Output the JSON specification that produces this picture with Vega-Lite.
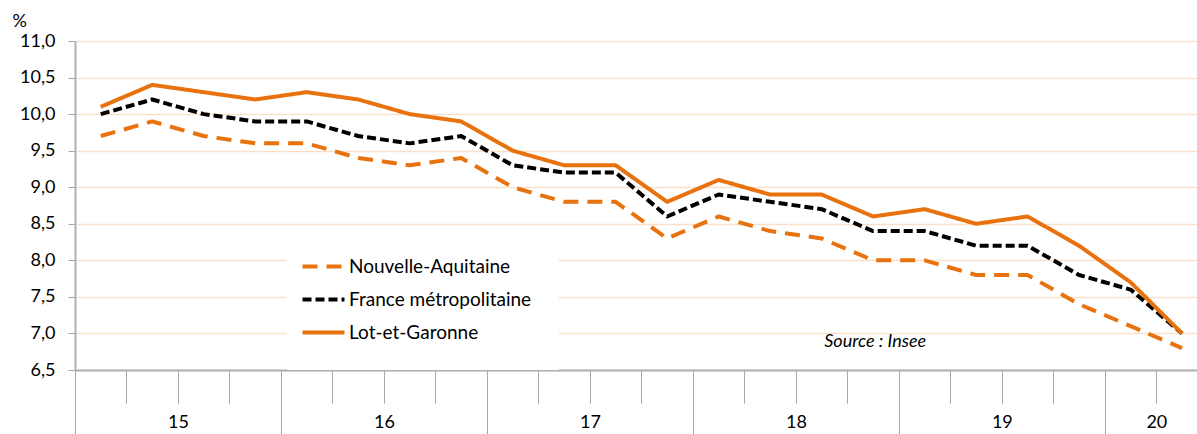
{
  "$schema": "https://vega.github.io/schema/vega-lite/v6.json",
  "width": 1122,
  "height": 329,
  "autosize": {"type": "none"},
  "padding": {"left": 75, "top": 41, "right": 0, "bottom": 64},
  "background": "white",
  "config": {"view": {"stroke": null}, "font": "Lato"},
  "data": {
    "values": [
      {"q": 0, "serie": "Nouvelle-Aquitaine", "taux": 9.7},
      {"q": 1, "serie": "Nouvelle-Aquitaine", "taux": 9.9},
      {"q": 2, "serie": "Nouvelle-Aquitaine", "taux": 9.7},
      {"q": 3, "serie": "Nouvelle-Aquitaine", "taux": 9.6},
      {"q": 4, "serie": "Nouvelle-Aquitaine", "taux": 9.6},
      {"q": 5, "serie": "Nouvelle-Aquitaine", "taux": 9.4},
      {"q": 6, "serie": "Nouvelle-Aquitaine", "taux": 9.3},
      {"q": 7, "serie": "Nouvelle-Aquitaine", "taux": 9.4},
      {"q": 8, "serie": "Nouvelle-Aquitaine", "taux": 9.0},
      {"q": 9, "serie": "Nouvelle-Aquitaine", "taux": 8.8},
      {"q": 10, "serie": "Nouvelle-Aquitaine", "taux": 8.8},
      {"q": 11, "serie": "Nouvelle-Aquitaine", "taux": 8.3},
      {"q": 12, "serie": "Nouvelle-Aquitaine", "taux": 8.6},
      {"q": 13, "serie": "Nouvelle-Aquitaine", "taux": 8.4},
      {"q": 14, "serie": "Nouvelle-Aquitaine", "taux": 8.3},
      {"q": 15, "serie": "Nouvelle-Aquitaine", "taux": 8.0},
      {"q": 16, "serie": "Nouvelle-Aquitaine", "taux": 8.0},
      {"q": 17, "serie": "Nouvelle-Aquitaine", "taux": 7.8},
      {"q": 18, "serie": "Nouvelle-Aquitaine", "taux": 7.8},
      {"q": 19, "serie": "Nouvelle-Aquitaine", "taux": 7.4},
      {"q": 20, "serie": "Nouvelle-Aquitaine", "taux": 7.1},
      {"q": 21, "serie": "Nouvelle-Aquitaine", "taux": 6.8},
      {"q": 0, "serie": "France métropolitaine", "taux": 10.0},
      {"q": 1, "serie": "France métropolitaine", "taux": 10.2},
      {"q": 2, "serie": "France métropolitaine", "taux": 10.0},
      {"q": 3, "serie": "France métropolitaine", "taux": 9.9},
      {"q": 4, "serie": "France métropolitaine", "taux": 9.9},
      {"q": 5, "serie": "France métropolitaine", "taux": 9.7},
      {"q": 6, "serie": "France métropolitaine", "taux": 9.6},
      {"q": 7, "serie": "France métropolitaine", "taux": 9.7},
      {"q": 8, "serie": "France métropolitaine", "taux": 9.3},
      {"q": 9, "serie": "France métropolitaine", "taux": 9.2},
      {"q": 10, "serie": "France métropolitaine", "taux": 9.2},
      {"q": 11, "serie": "France métropolitaine", "taux": 8.6},
      {"q": 12, "serie": "France métropolitaine", "taux": 8.9},
      {"q": 13, "serie": "France métropolitaine", "taux": 8.8},
      {"q": 14, "serie": "France métropolitaine", "taux": 8.7},
      {"q": 15, "serie": "France métropolitaine", "taux": 8.4},
      {"q": 16, "serie": "France métropolitaine", "taux": 8.4},
      {"q": 17, "serie": "France métropolitaine", "taux": 8.2},
      {"q": 18, "serie": "France métropolitaine", "taux": 8.2},
      {"q": 19, "serie": "France métropolitaine", "taux": 7.8},
      {"q": 20, "serie": "France métropolitaine", "taux": 7.6},
      {"q": 21, "serie": "France métropolitaine", "taux": 7.0},
      {"q": 0, "serie": "Lot-et-Garonne", "taux": 10.1},
      {"q": 1, "serie": "Lot-et-Garonne", "taux": 10.4},
      {"q": 2, "serie": "Lot-et-Garonne", "taux": 10.3},
      {"q": 3, "serie": "Lot-et-Garonne", "taux": 10.2},
      {"q": 4, "serie": "Lot-et-Garonne", "taux": 10.3},
      {"q": 5, "serie": "Lot-et-Garonne", "taux": 10.2},
      {"q": 6, "serie": "Lot-et-Garonne", "taux": 10.0},
      {"q": 7, "serie": "Lot-et-Garonne", "taux": 9.9},
      {"q": 8, "serie": "Lot-et-Garonne", "taux": 9.5},
      {"q": 9, "serie": "Lot-et-Garonne", "taux": 9.3},
      {"q": 10, "serie": "Lot-et-Garonne", "taux": 9.3},
      {"q": 11, "serie": "Lot-et-Garonne", "taux": 8.8},
      {"q": 12, "serie": "Lot-et-Garonne", "taux": 9.1},
      {"q": 13, "serie": "Lot-et-Garonne", "taux": 8.9},
      {"q": 14, "serie": "Lot-et-Garonne", "taux": 8.9},
      {"q": 15, "serie": "Lot-et-Garonne", "taux": 8.6},
      {"q": 16, "serie": "Lot-et-Garonne", "taux": 8.7},
      {"q": 17, "serie": "Lot-et-Garonne", "taux": 8.5},
      {"q": 18, "serie": "Lot-et-Garonne", "taux": 8.6},
      {"q": 19, "serie": "Lot-et-Garonne", "taux": 8.2},
      {"q": 20, "serie": "Lot-et-Garonne", "taux": 7.7},
      {"q": 21, "serie": "Lot-et-Garonne", "taux": 7.0}
    ]
  },
  "resolve": {"axis": {"x": "independent", "y": "independent"}},
  "layer": [
    {
      "mark": {"type": "line", "strokeWidth": 4, "strokeCap": "butt", "strokeJoin": "round"},
      "encoding": {
        "x": {
          "field": "q", "type": "quantitative",
          "scale": {"domain": [-0.5, 21.29], "nice": false, "zero": false},
          "axis": {
            "orient": "bottom",
            "values": [-0.5, 0.5, 1.5, 2.5, 3.5, 4.5, 5.5, 6.5, 7.5, 8.5, 9.5, 10.5, 11.5, 12.5, 13.5, 14.5, 15.5, 16.5, 17.5, 18.5, 19.5, 20.5],
            "labels": false, "title": null, "grid": false,
            "domainColor": "#B0B0B0", "domainWidth": 2,
            "tickColor": "#A6A6A6", "tickWidth": 1,
            "tickSize": {"condition": {"test": "(datum.value + 0.5) % 4 === 0", "value": 70}, "value": 33}
          }
        },
        "y": {
          "field": "taux", "type": "quantitative",
          "scale": {"domain": [6.5, 11], "nice": false, "zero": false},
          "axis": {
            "values": [6.5, 7, 7.5, 8, 8.5, 9, 9.5, 10, 10.5, 11],
            "labelExpr": "replace(format(datum.value, '.1f'), '.', ',')",
            "labelFontSize": 18, "labelColor": "#000000", "labelPadding": 13,
            "tickSize": 7, "tickColor": "#A6A6A6",
            "domainColor": "#B0B0B0", "domainWidth": 2,
            "grid": true, "gridColor": "#FBE0C9", "gridWidth": 1.5,
            "title": "%", "titleAngle": 0, "titleX": -63, "titleY": -20,
            "titleAlign": "left", "titleBaseline": "middle",
            "titleFontSize": 18, "titleFontWeight": "normal", "titleColor": "#000000"
          }
        },
        "color": {
          "field": "serie", "type": "nominal",
          "scale": {"domain": ["Nouvelle-Aquitaine", "France métropolitaine", "Lot-et-Garonne"], "range": ["#E8720E", "#000000", "#E8720E"]},
          "legend": {
            "title": null, "orient": "none", "legendX": 212, "legendY": 189,
            "fillColor": "white", "padding": 27,
            "symbolType": "M-3,0H3", "symbolSize": 196, "symbolStrokeWidth": 4,
            "labelFont": "Lato", "labelFontSize": 19, "labelColor": "#000000", "labelLimit": 400,
            "labelOffset": 16, "rowPadding": 13
          }
        },
        "strokeDash": {
          "field": "serie", "type": "nominal",
          "scale": {"domain": ["Nouvelle-Aquitaine", "France métropolitaine", "Lot-et-Garonne"], "range": [[15, 9], [9, 4], [1, 0]]},
          "legend": {
            "title": null, "orient": "none", "legendX": 212, "legendY": 189,
            "fillColor": "white", "padding": 27,
            "symbolType": "M-3,0H3", "symbolSize": 196, "symbolStrokeWidth": 4,
            "labelFont": "Lato", "labelFontSize": 19, "labelColor": "#000000", "labelLimit": 400,
            "labelOffset": 16, "rowPadding": 13
          }
        }
      }
    },
    {
      "mark": {"type": "point", "opacity": 0},
      "encoding": {
        "x": {
          "field": "q", "type": "quantitative",
          "axis": {
            "orient": "bottom",
            "values": [1.5, 5.5, 9.5, 13.5, 17.5, 20.5],
            "labelExpr": "datum.value == 20.5 ? '20' : format(15 + floor(datum.value / 4), 'd')",
            "ticks": false, "domain": false, "grid": false, "title": null,
            "labelFontSize": 18, "labelColor": "#000000", "labelPadding": 43
          }
        },
        "y": {"field": "taux", "type": "quantitative", "axis": null}
      }
    },
    {
      "data": {"values": [{"texte": "Source : Insee"}]},
      "mark": {"type": "text", "font": "Lato", "fontStyle": "italic", "fontSize": 18, "color": "#000000", "align": "center", "baseline": "middle"},
      "encoding": {
        "text": {"field": "texte"},
        "x": {"datum": 15.04, "type": "quantitative", "axis": null},
        "y": {"datum": 6.88, "type": "quantitative", "axis": null}
      }
    }
  ]
}
